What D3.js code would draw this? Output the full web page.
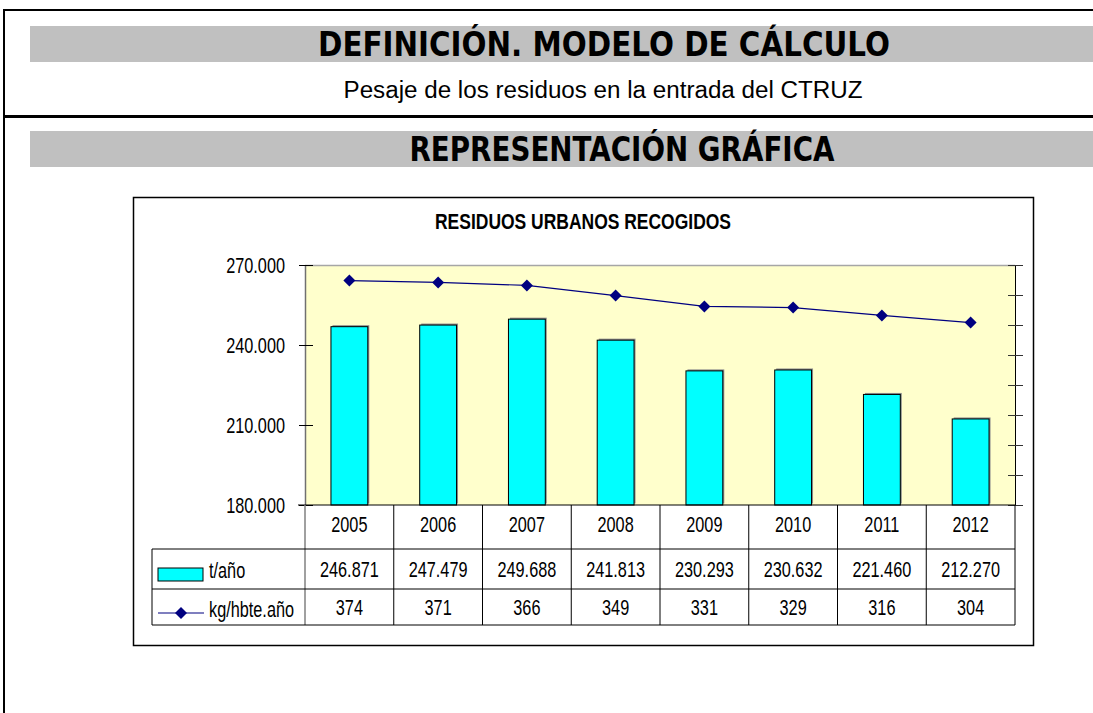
<!DOCTYPE html>
<html><head><meta charset="utf-8">
<script src="https://cdn.jsdelivr.net/npm/d3@7"></script>
<style>body{margin:0;background:#fff} svg{display:block}</style>
</head><body><svg id="c" width="1093" height="713"></svg>
<script>
const headerTitle = "DEFINICIÓN. MODELO DE CÁLCULO";
const headerSubtitle = "Pesaje de los residuos en la entrada del CTRUZ";
const sectionTitle = "REPRESENTACIÓN GRÁFICA";
const chartTitle = "RESIDUOS URBANOS RECOGIDOS";
const years = ["2005","2006","2007","2008","2009","2010","2011","2012"];
const tonnesPerYear = [246871, 247479, 249688, 241813, 230293, 230632, 221460, 212270];
const kgPerInhabitantYear = [374, 371, 366, 349, 331, 329, 316, 304];
const seriesNames = ["t/año", "kg/hbte.año"];
const leftTicks = [180000, 210000, 240000, 270000];
const rightTicks = [0, 50, 100, 150, 200, 250, 300, 350, 400];

const svg = d3.select("#c");
const fmt = d3.formatLocale({decimal: ",", thousands: ".", grouping: [3], currency: ["", ""]}).format(",.0f");
const ARIAL = "Liberation Sans, Arial, sans-serif";
const HEAD = "DejaVu Sans, Verdana, sans-serif";
const SQ = 0.74, FS = 22;
function squeeze(sx) {
  return function() {
    const t = d3.select(this);
    const x = +t.attr("x") || 0;
    t.attr("transform", `translate(${x},0) scale(${sx},1) translate(${-x},0)`);
  };
}

svg.append("rect").attr("width", 1093).attr("height", 713).attr("fill", "#fff");

// page frame
svg.append("rect").attr("x", 30).attr("y", 26).attr("width", 1063).attr("height", 36).attr("fill", "#C0C0C0");
svg.append("rect").attr("x", 30).attr("y", 131).attr("width", 1063).attr("height", 36).attr("fill", "#C0C0C0");
svg.append("line").attr("x1", 3).attr("x2", 1093).attr("y1", 10).attr("y2", 10).attr("stroke", "#000").attr("stroke-width", 2);
svg.append("line").attr("x1", 3).attr("x2", 1093).attr("y1", 116.5).attr("y2", 116.5).attr("stroke", "#000").attr("stroke-width", 3);
svg.append("line").attr("x1", 4).attr("x2", 4).attr("y1", 9).attr("y2", 713).attr("stroke", "#000").attr("stroke-width", 2);

svg.append("text").text(headerTitle).attr("x", 604).attr("y", 56).attr("text-anchor", "middle")
  .attr("font-family", HEAD).attr("font-weight", "bold").attr("font-size", 34)
  .attr("textLength", 572).attr("lengthAdjust", "spacingAndGlyphs");
svg.append("text").text(headerSubtitle).attr("x", 603).attr("y", 98).attr("text-anchor", "middle")
  .attr("font-family", ARIAL).attr("font-size", 23)
  .attr("textLength", 519).attr("lengthAdjust", "spacingAndGlyphs");
svg.append("text").text(sectionTitle).attr("x", 622).attr("y", 161).attr("text-anchor", "middle")
  .attr("font-family", HEAD).attr("font-weight", "bold").attr("font-size", 34)
  .attr("textLength", 425).attr("lengthAdjust", "spacingAndGlyphs");

// chart box
svg.append("rect").attr("x", 133.5).attr("y", 197.5).attr("width", 900).attr("height", 448)
  .attr("fill", "#fff").attr("stroke", "#000").attr("stroke-width", 1.5);
svg.append("text").text(chartTitle).attr("x", 583).attr("y", 229).attr("text-anchor", "middle")
  .attr("font-family", ARIAL).attr("font-weight", "bold").attr("font-size", 22.5)
  .attr("textLength", 296).attr("lengthAdjust", "spacingAndGlyphs");

const x = d3.scaleBand().domain(years).range([305, 1015]).padding(0);
const yL = d3.scaleLinear().domain([180000, 270000]).range([505, 265]);
const yR = d3.scaleLinear().domain([0, 400]).range([505, 265]);
const bw = x.bandwidth();
const barW = bw * 0.415;

svg.append("rect").attr("x", 305).attr("y", 265).attr("width", 710).attr("height", 240).attr("fill", "#FFFFCC");
svg.append("line").attr("x1", 305).attr("x2", 1015).attr("y1", 265.5).attr("y2", 265.5).attr("stroke", "#A6A6A6").attr("stroke-width", 1.5);

// bars (with slight shadow)
svg.append("g").selectAll("rect").data(tonnesPerYear).join("rect")
  .attr("x", (d, i) => x(years[i]) + (bw - barW) / 2 + 1.5)
  .attr("y", d => yL(d) - 1.5)
  .attr("width", barW)
  .attr("height", d => yL.range()[0] - yL(d))
  .attr("fill", "#8c8c8c");
svg.append("g").selectAll("rect").data(tonnesPerYear).join("rect")
  .attr("x", (d, i) => x(years[i]) + (bw - barW) / 2)
  .attr("y", d => yL(d))
  .attr("width", barW)
  .attr("height", d => yL.range()[0] - yL(d))
  .attr("fill", "#00FFFF").attr("stroke", "#000").attr("stroke-width", 1);

// left axis
const la = svg.append("g").attr("transform", "translate(305,0)")
  .call(d3.axisLeft(yL).tickValues(leftTicks).tickFormat(fmt).tickSizeOuter(0).tickSizeInner(6).tickPadding(14));
la.select(".domain").attr("stroke", "#707070").attr("stroke-width", 1.5);
la.selectAll(".tick line").attr("x1", 8).attr("x2", -6).attr("stroke", "#000");
la.selectAll(".tick text").attr("font-family", ARIAL).attr("font-size", FS).attr("fill", "#000").each(squeeze(SQ));

// right axis
const ra = svg.append("g").attr("transform", "translate(1015,0)")
  .call(d3.axisRight(yR).tickValues(rightTicks).tickFormat("").tickSizeOuter(0).tickSizeInner(8));
ra.select(".domain").attr("stroke", "#000").attr("stroke-width", 1);
ra.selectAll(".tick line").attr("x1", -7).attr("x2", 8).attr("stroke", "#333");

// bottom axis line
svg.append("line").attr("x1", 298).attr("x2", 1015).attr("y1", 505).attr("y2", 505).attr("stroke", "#000").attr("stroke-width", 1);

// line series
const lineGen = d3.line().x((d, i) => x(years[i]) + bw / 2).y(d => yR(d));
svg.append("path").datum(kgPerInhabitantYear).attr("d", lineGen).attr("fill", "none").attr("stroke", "#000080").attr("stroke-width", 1.2);
const diamond = d3.symbol(d3.symbolSquare, 72);
svg.append("g").selectAll("path").data(kgPerInhabitantYear).join("path")
  .attr("d", diamond)
  .attr("transform", (d, i) => `translate(${x(years[i]) + bw / 2},${yR(d)}) rotate(45)`)
  .attr("fill", "#000080");

// data table
const rowY = [505, 549, 589, 625];
const tblLeft = 152;
const bounds = years.map(y => x(y)).concat([x.range()[1]]);
const tbl = svg.append("g");
tbl.selectAll("line.v").data(bounds).join("line")
  .attr("x1", d => d).attr("x2", d => d).attr("y1", rowY[0]).attr("y2", rowY[3])
  .attr("stroke", (d, i) => i === 0 ? "#808080" : "#000").attr("stroke-width", (d, i) => i === 0 ? 1.5 : 1);
tbl.selectAll("line.h").data(rowY.slice(1)).join("line")
  .attr("x1", tblLeft).attr("x2", x.range()[1]).attr("y1", d => d).attr("y2", d => d)
  .attr("stroke", "#000").attr("stroke-width", 1);
tbl.append("line").attr("x1", tblLeft).attr("x2", tblLeft).attr("y1", rowY[1]).attr("y2", rowY[3]).attr("stroke", "#000");

function rowText(values, baseline, f) {
  tbl.append("g").selectAll("text").data(values).join("text")
    .attr("x", (d, i) => x(years[i]) + bw / 2).attr("y", baseline)
    .attr("text-anchor", "middle").attr("font-family", ARIAL).attr("font-size", FS).attr("fill", "#000")
    .text(f).each(squeeze(SQ));
}
rowText(years, 532, d => d);
rowText(tonnesPerYear, 577, d => fmt(d));
rowText(kgPerInhabitantYear, 615, d => fmt(d));

// legend keys
tbl.append("rect").attr("x", 158).attr("y", 568).attr("width", 45).attr("height", 13)
  .attr("fill", "#00FFFF").attr("stroke", "#000").attr("stroke-width", 1);
tbl.append("line").attr("x1", 158).attr("x2", 204).attr("y1", 613).attr("y2", 613).attr("stroke", "#000080").attr("stroke-width", 1.2);
tbl.append("path").attr("d", diamond).attr("transform", "translate(181,613) rotate(45)").attr("fill", "#000080");
tbl.selectAll("text.lg").data(seriesNames).join("text")
  .attr("x", 209).attr("y", (d, i) => [578, 617][i])
  .attr("font-family", ARIAL).attr("font-size", FS).attr("fill", "#000")
  .text(d => d).each(squeeze(SQ));
</script></body></html>
